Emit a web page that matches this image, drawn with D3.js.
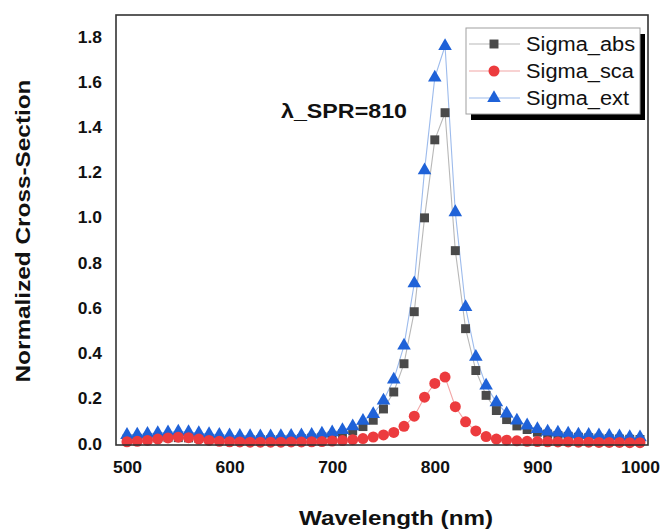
<!DOCTYPE html>
<html><head><meta charset="utf-8">
<script src="https://cdnjs.cloudflare.com/ajax/libs/d3/7.8.5/d3.min.js"></script>
<style>html,body{margin:0;padding:0;background:#fff;}svg{display:block;font-family:"Liberation Sans",Arial,sans-serif;}</style>
</head><body>
<script>
const wavelengths = d3.range(500, 1001, 10);
const sigmaAbs = [0.022,0.024,0.026,0.027,0.028,0.028,0.027,0.025,0.023,0.021,
  0.020,0.019,0.019,0.019,0.019,0.020,0.021,0.023,0.026,0.030,
  0.036,0.045,0.058,0.077,0.105,0.155,0.230,0.355,0.585,1.000,
  1.345,1.465,0.855,0.510,0.325,0.215,0.148,0.108,0.080,0.064,
  0.052,0.044,0.038,0.034,0.030,0.028,0.026,0.024,0.022,0.021,0.020];
const sigmaSca = [0.010,0.012,0.016,0.022,0.027,0.030,0.028,0.022,0.016,0.012,
  0.010,0.009,0.008,0.008,0.008,0.008,0.009,0.009,0.010,0.011,
  0.013,0.015,0.019,0.024,0.031,0.040,0.051,0.078,0.123,0.207,
  0.268,0.296,0.165,0.098,0.058,0.033,0.022,0.017,0.014,0.012,
  0.011,0.010,0.009,0.009,0.008,0.008,0.007,0.007,0.007,0.006,0.006];
const sigmaExt = [0.040,0.042,0.045,0.048,0.052,0.055,0.053,0.048,0.044,0.041,
  0.038,0.036,0.035,0.034,0.034,0.035,0.036,0.038,0.041,0.046,
  0.052,0.062,0.078,0.102,0.132,0.192,0.285,0.435,0.710,1.210,
  1.620,1.760,1.025,0.605,0.385,0.258,0.184,0.135,0.104,0.082,
  0.066,0.055,0.050,0.046,0.042,0.040,0.038,0.036,0.034,0.031,0.029];
const xTicks = [500,600,700,800,900,1000];
const yTicks = [0,0.2,0.4,0.6,0.8,1.0,1.2,1.4,1.6,1.8];
const seriesNames = ["Sigma_abs","Sigma_sca","Sigma_ext"];
const annotation = "λ_SPR=810";
const xTitle = "Wavelength (nm)";
const yTitle = "Normalized Cross-Section";

const W = 660, H = 529;
const L = 116, R = 648, T = 15, B = 445;
const svg = d3.select("body").append("svg").attr("width", W).attr("height", H);

const x = d3.scaleLinear().domain([489.3, 1007.8]).range([L, R]);
const y = d3.scaleLinear().domain([-0.0044, 1.897]).range([B, T]);

function stretch(sel, f) {
  sel.each(function() {
    const w = this.getComputedTextLength();
    d3.select(this).attr("textLength", w * f).attr("lengthAdjust", "spacingAndGlyphs");
  });
}

// axes (labels only, no tick marks)
const xAxis = svg.append("g").attr("transform", `translate(0,${B})`)
  .call(d3.axisBottom(x).tickValues(xTicks).tickSize(0).tickPadding(17).tickFormat(d3.format("d")));
xAxis.select(".domain").remove();
xAxis.selectAll("text").attr("font-size", 16).attr("font-weight", "bold").attr("fill", "#111")
  .attr("font-family", "Liberation Sans, Arial, sans-serif");
stretch(xAxis.selectAll("text"), 1.09);

const yAxis = svg.append("g").attr("transform", `translate(${L},0)`)
  .call(d3.axisLeft(y).tickValues(yTicks).tickSize(0).tickPadding(14).tickFormat(d3.format(".1f")));
yAxis.select(".domain").remove();
yAxis.selectAll("text").attr("font-size", 16).attr("font-weight", "bold").attr("fill", "#111")
  .attr("font-family", "Liberation Sans, Arial, sans-serif");
stretch(yAxis.selectAll("text"), 1.09);

// series
const pts = k => wavelengths.map((w, i) => [w, k[i]]);
const line = d3.line().x(d => x(d[0])).y(d => y(d[1]));
const series = [
  {name: seriesNames[0], data: sigmaAbs, stroke: "#b8b8b8", fill: "#4a4a4a", sym: d3.symbolSquare, size: 80},
  {name: seriesNames[1], data: sigmaSca, stroke: "#f2a6a6", fill: "#ec3b3e", sym: d3.symbolCircle, size: 95},
  {name: seriesNames[2], data: sigmaExt, stroke: "#9dbbec", fill: "#1f62d8", sym: d3.symbolTriangle, size: 80}
];
const drawOrder = [0, 2, 1];
drawOrder.forEach(i => {
  const s = series[i];
  svg.append("path").attr("d", line(pts(s.data))).attr("fill", "none")
    .attr("stroke", s.stroke).attr("stroke-width", 1.1);
});
drawOrder.forEach(i => {
  const s = series[i];
  svg.append("g").selectAll("path").data(pts(s.data)).join("path")
    .attr("transform", d => `translate(${x(d[0])},${y(d[1])})`)
    .attr("d", d3.symbol(s.sym, s.size)).attr("fill", s.fill);
});

// frame
svg.append("rect").attr("x", L).attr("y", T).attr("width", R - L).attr("height", B - T)
  .attr("fill", "none").attr("stroke", "#333").attr("stroke-width", 1.6);

// annotation
const ann = svg.append("text").attr("x", 281).attr("y", 118).attr("font-size", 20)
  .attr("font-weight", "bold").attr("fill", "#111").text(annotation);
ann.attr("textLength", 126).attr("lengthAdjust", "spacingAndGlyphs");

// legend
const lg = svg.append("g");
lg.append("rect").attr("x", 471).attr("y", 34).attr("width", 174).attr("height", 86).attr("fill", "#000");
lg.append("rect").attr("x", 466).attr("y", 28).attr("width", 174).attr("height", 86)
  .attr("fill", "#fff").attr("stroke", "#a0a0a0").attr("stroke-width", 1);
const rowY = [44, 71, 98];
series.forEach((s, i) => {
  lg.append("line").attr("x1", 469).attr("x2", 520).attr("y1", rowY[i]).attr("y2", rowY[i])
    .attr("stroke", s.stroke).attr("stroke-width", 1.1);
  lg.append("path").attr("transform", `translate(494,${rowY[i]})`)
    .attr("d", d3.symbol(s.sym, s.size)).attr("fill", s.fill);
  const t = lg.append("text").attr("x", 526).attr("y", rowY[i] + 7).attr("font-size", 20)
    .attr("fill", "#111").text(s.name);
  stretch(t, 1.09);
});

// axis titles
const xt = svg.append("text").attr("x", 396).attr("y", 525).attr("text-anchor", "middle")
  .attr("font-size", 20).attr("font-weight", "bold").attr("fill", "#111").text(xTitle);
xt.attr("textLength", 194).attr("lengthAdjust", "spacingAndGlyphs");
const yt = svg.append("text").attr("transform", "translate(30,231) rotate(-90)").attr("text-anchor", "middle")
  .attr("font-size", 20).attr("font-weight", "bold").attr("fill", "#111").text(yTitle);
yt.attr("textLength", 303).attr("lengthAdjust", "spacingAndGlyphs");
</script>
</body></html>
